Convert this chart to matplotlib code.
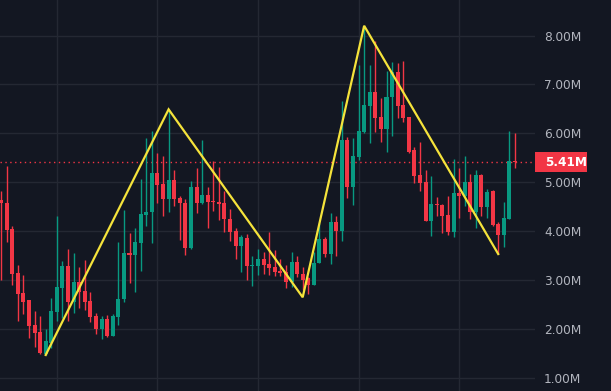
import matplotlib
matplotlib.use("Agg")
import matplotlib.pyplot as plt
from matplotlib.patches import Rectangle
from matplotlib.transforms import blended_transform_factory
import numpy as np

# OHLC values in millions
opens = [4.63, 4.57, 4.04, 3.15, 2.74, 2.58, 2.08, 1.94, 1.49, 1.72,
         2.35, 2.84, 3.29, 2.54, 2.95, 2.77, 2.56, 2.26, 2.00, 2.20,
         1.86, 2.25, 2.61, 3.56, 3.51, 3.76, 4.33, 4.38, 5.19, 4.96,
         4.66, 5.04, 4.68, 4.58, 3.66, 4.91, 4.58, 4.74, 4.62, 4.60,
         4.58, 4.25, 4.00, 3.70, 3.86, 3.29, 3.29, 3.43, 3.33, 3.26,
         3.19, 3.17, 2.95, 3.37, 3.13, 3.03, 2.90, 3.34, 3.84, 3.53,
         4.18, 4.00, 5.86, 4.91, 5.52, 6.03, 6.56, 6.85, 6.34, 6.09,
         6.74, 7.26, 6.58, 6.34, 5.65, 5.15, 5.00, 4.21, 4.56, 4.53,
         4.33, 3.99, 4.77, 4.72, 5.01, 4.38, 5.15, 4.50, 4.81, 4.14,
         3.92, 4.25, 5.43]
highs = [4.81, 5.33, 4.10, 3.31, 3.10, 2.59, 2.36, 2.26, 2.00, 2.64,
         4.30, 3.39, 3.63, 3.55, 3.26, 3.41, 2.76, 2.32, 2.26, 2.28,
         2.30, 3.77, 4.43, 3.97, 4.07, 5.07, 5.90, 6.05, 5.60, 5.54,
         6.48, 5.24, 4.72, 4.65, 5.02, 5.30, 5.86, 4.91, 5.43, 5.32,
         4.82, 4.45, 4.06, 3.92, 3.95, 3.49, 3.63, 3.57, 3.99, 3.61,
         3.42, 3.31, 3.58, 3.49, 3.26, 3.06, 3.58, 4.17, 3.87, 4.36,
         4.31, 6.66, 5.92, 5.90, 7.40, 8.20, 7.40, 7.89, 6.72, 7.28,
         7.45, 7.43, 7.48, 6.34, 5.71, 5.83, 5.25, 5.13, 4.70, 4.56,
         4.72, 5.47, 5.28, 5.54, 5.17, 5.25, 5.17, 4.87, 4.83, 4.19,
         4.60, 6.05, 6.01]
lows = [3.00, 3.78, 2.90, 2.17, 2.30, 1.82, 1.63, 1.49, 1.465, 1.60,
        2.15, 2.23, 2.16, 2.32, 2.42, 2.39, 2.13, 1.89, 1.79, 1.83,
        1.86, 2.08, 2.54, 2.93, 2.76, 3.19, 4.10, 3.76, 4.57, 4.31,
        4.40, 4.52, 3.82, 3.52, 3.63, 4.36, 4.55, 4.07, 4.42, 4.23,
        3.99, 3.80, 3.43, 3.17, 2.99, 2.88, 3.10, 3.12, 3.10, 3.08,
        3.08, 2.83, 2.85, 3.07, 2.79, 2.71, 2.90, 3.34, 3.46, 3.32,
        3.50, 3.80, 4.67, 4.53, 5.45, 6.00, 5.81, 6.03, 5.83, 5.62,
        5.95, 6.32, 6.24, 5.60, 4.98, 4.81, 4.21, 3.89, 4.31, 3.96,
        3.92, 3.87, 4.27, 4.51, 4.24, 4.06, 4.31, 4.26, 4.10, 3.53,
        3.68, 4.25, 5.30]
closes = [4.57, 4.02, 3.12, 2.71, 2.55, 2.06, 1.92, 1.50, 1.75, 2.36,
          2.85, 3.29, 2.54, 2.96, 2.76, 2.54, 2.25, 2.00, 2.20, 1.86,
          2.26, 2.62, 3.56, 3.51, 3.77, 4.35, 4.40, 5.19, 4.94, 4.66,
          5.04, 4.66, 4.57, 3.66, 4.91, 4.58, 4.74, 4.60, 4.60, 4.55,
          4.24, 3.99, 3.70, 3.87, 3.29, 3.31, 3.43, 3.31, 3.25, 3.16,
          3.15, 2.95, 3.37, 3.12, 3.00, 2.90, 3.34, 3.84, 3.53, 4.18,
          4.00, 5.86, 4.91, 5.53, 6.05, 6.58, 6.85, 6.32, 6.09, 6.74,
          7.26, 6.56, 6.32, 5.61, 5.13, 4.98, 4.21, 4.56, 4.53, 4.31,
          3.99, 4.77, 4.72, 5.01, 4.38, 5.15, 4.50, 4.80, 4.12, 3.92,
          4.27, 5.43, 5.41]

# hand-drawn zigzag (candle index, price)
zig_idx = [8, 30, 54, 65, 89]
zig_val = [1.465, 6.49, 2.645, 8.2, 3.53]

last_price = 5.41
y_ticks = [1, 2, 3, 4, 5, 6, 7, 8]
x_grid = [10, 28, 46, 64, 82]

BG = "#131722"
GRID = "#242833"
UP = "#089981"
DOWN = "#F23645"
TXT = "#B2B5BE"

fig = plt.figure(figsize=(6.11, 3.91), dpi=100, facecolor=BG)
ax = fig.add_axes([0, 0, 535 / 611, 1])
ax.set_facecolor(BG)

o = np.array(opens)
h = np.array(highs)
l = np.array(lows)
c = np.array(closes)
idx = np.arange(len(o))
up = c >= o
cols = np.where(up, UP, DOWN)

ax.vlines(idx, l, h, colors=cols, lw=1, zorder=3)
body_lo = np.minimum(o, c)
body_h = np.maximum(np.abs(c - o), 0.025)
ax.bar(idx, body_h, bottom=body_lo, width=0.72, color=cols, lw=0, zorder=4)

ax.plot(zig_idx, zig_val, color="#F5E33B", lw=1.6, zorder=5,
        solid_joinstyle="miter")

ax.axhline(last_price, color=DOWN, lw=1, ls=(0, (1, 2.5)), zorder=2)

ax.set_xlim(-0.18, 95.58)
ax.set_ylim(0.728, 8.727)

ax.set_yticks(y_ticks)
ax.set_yticklabels([f"{v:.2f}M" for v in y_ticks])
ax.set_xticks(x_grid)
ax.set_xticklabels([])
ax.yaxis.tick_right()
ax.tick_params(axis="y", length=0, pad=6.5, labelsize=8.7, labelcolor=TXT)
ax.tick_params(axis="x", length=0)
ax.grid(True, color=GRID, lw=1)
ax.set_axisbelow(True)
for s in ax.spines.values():
    s.set_visible(False)

# last price tag on the scale
tr = blended_transform_factory(ax.transAxes, ax.transData)
box_h = 20 / 48.88
ax.add_patch(Rectangle((1.0, last_price - box_h / 2), 52 / 535, box_h,
                       transform=tr, facecolor=DOWN, edgecolor="none",
                       clip_on=False, zorder=6))
ax.text(1.0 + 10 / 535, last_price, f"{last_price:.2f}M", transform=tr,
        ha="left", va="center", color="white", fontsize=8.7,
        fontweight="bold", zorder=7, clip_on=False)

fig.savefig("out.png", dpi=100, facecolor=BG)
